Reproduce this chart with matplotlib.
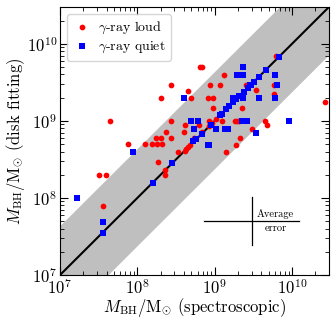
import numpy as np
import matplotlib
matplotlib.use('Agg')
import matplotlib.pyplot as plt

plt.rcParams['font.family'] = 'serif'
plt.rcParams['font.serif'] = ['cmr10', 'DejaVu Serif']
plt.rcParams['mathtext.fontset'] = 'cm'
plt.rcParams['axes.unicode_minus'] = False
plt.rcParams['axes.formatter.use_mathtext'] = True

# log10 of M_BH / M_sun : (spectroscopic, disk fitting)
loud_x = [8.31, 7.65, 7.88, 8.10, 8.24, 8.31, 8.19, 8.25, 8.32, 8.37,
          8.81, 8.84, 8.43, 8.66, 8.69, 9.12, 8.94, 9.07, 9.40, 9.77,
          9.53, 8.91, 8.98, 9.77, 9.35, 8.98, 10.42, 8.43, 8.92, 9.10,
          9.26, 9.29, 9.32, 9.65, 9.67, 8.61, 8.80, 9.48, 8.44, 8.60,
          8.73, 8.83, 9.33, 9.28, 9.14, 8.53, 8.63, 8.66, 8.68, 9.79,
          7.51, 7.59, 7.55, 8.27, 8.36, 8.36, 9.02, 8.93, 8.97, 8.61]
loud_y = [9.30, 9.00, 8.70, 8.70, 8.78, 8.78, 8.70, 8.70, 8.70, 8.85,
          9.70, 9.70, 9.47, 9.39, 9.30, 9.60, 9.47, 9.47, 9.47, 9.47,
          9.40, 9.30, 9.30, 9.35, 9.17, 9.17, 9.25, 9.00, 9.00, 9.00,
          9.00, 9.00, 9.00, 9.00, 8.94, 8.94, 8.94, 8.90, 8.78, 8.85,
          8.78, 8.85, 8.78, 8.69, 8.60, 8.60, 8.63, 8.66, 8.69, 9.84,
          8.30, 8.30, 7.90, 8.47, 8.36, 8.30, 9.02, 8.93, 8.97, 8.61]

quiet_x = [7.94, 7.22, 7.56, 7.55, 8.20, 8.45, 8.72, 8.91, 8.92, 8.60,
           9.36, 9.29, 9.36, 9.78, 9.45, 9.80, 9.24, 9.36, 9.57, 9.78,
           8.70, 8.79, 9.35, 9.42, 9.96, 8.73, 9.02, 9.13, 9.17, 9.53,
           9.83, 9.66, 9.57, 9.51, 9.47, 9.43, 9.38, 9.32, 9.28, 9.24,
           9.19, 9.15, 9.09, 9.07, 8.95, 8.83, 8.76]
quiet_y = [8.60, 8.00, 7.69, 7.54, 8.20, 8.45, 8.74, 8.69, 8.69, 9.30,
           9.70, 9.60, 9.60, 9.60, 9.47, 9.47, 9.30, 9.30, 9.30, 9.30,
           9.00, 9.00, 9.00, 9.00, 9.00, 8.90, 8.90, 8.90, 8.90, 8.84,
           9.83, 9.66, 9.57, 9.51, 9.47, 9.43, 9.38, 9.32, 9.28, 9.24,
           9.19, 9.15, 9.09, 9.07, 8.95, 8.83, 8.76]

band_dex = 0.63
err_center = (3e9, 5e7)
err_x_dex = 0.61
err_y_dex = 0.31

fig = plt.figure(figsize=(3.36, 3.2), dpi=100)
ax = fig.add_axes([0.1786, 0.1406, 0.8004, 0.8375])

lo, hi = 1e7, 3e10
xx = np.logspace(6, 11, 200)
ax.fill_between(xx, xx / 10**band_dex, xx * 10**band_dex, color='#bfbfbf', lw=0, zorder=1)
ax.plot(xx, xx, color='black', lw=1.5, zorder=2)

ax.scatter(10**np.array(loud_x), 10**np.array(loud_y), s=17, c='red', marker='o',
           lw=0, zorder=3, label=r'$\gamma$-ray loud')
ax.scatter(10**np.array(quiet_x), 10**np.array(quiet_y), s=16, c='blue', marker='s',
           lw=0, zorder=4, label=r'$\gamma$-ray quiet')

# average error cross
cx, cy = err_center
ax.plot([cx / 10**err_x_dex, cx * 10**err_x_dex], [cy, cy], color='black', lw=0.9)
ax.plot([cx, cx], [cy / 10**err_y_dex, cy * 10**err_y_dex], color='black', lw=0.9)
ax.text(cx * 2.05, cy * 1.07, 'Average', fontsize=7.5, ha='center', va='bottom')
ax.text(cx * 2.05, cy * 0.93, 'error', fontsize=7.5, ha='center', va='top')

ax.set_xscale('log')
ax.set_yscale('log')
ax.set_xlim(lo, hi)
ax.set_ylim(lo, hi)
ax.tick_params(which='both', direction='in', top=True, right=True, labelsize=12, pad=2)
ax.tick_params(which='major', length=6)
ax.tick_params(which='minor', length=3)

ax.set_xlabel(r'$M_{\rm BH}/{\rm M}_{\odot}$ (spectroscopic)', fontsize=12, labelpad=-1)
ax.set_ylabel(r'$M_{\rm BH}/{\rm M}_{\odot}$ (disk fitting)', fontsize=12, labelpad=0)

ax.legend(loc='upper left', fontsize=10, handletextpad=0.4, borderpad=0.4,
          labelspacing=0.3, handlelength=1.4, markerscale=1.0)

fig.savefig('out.png', dpi=100)
